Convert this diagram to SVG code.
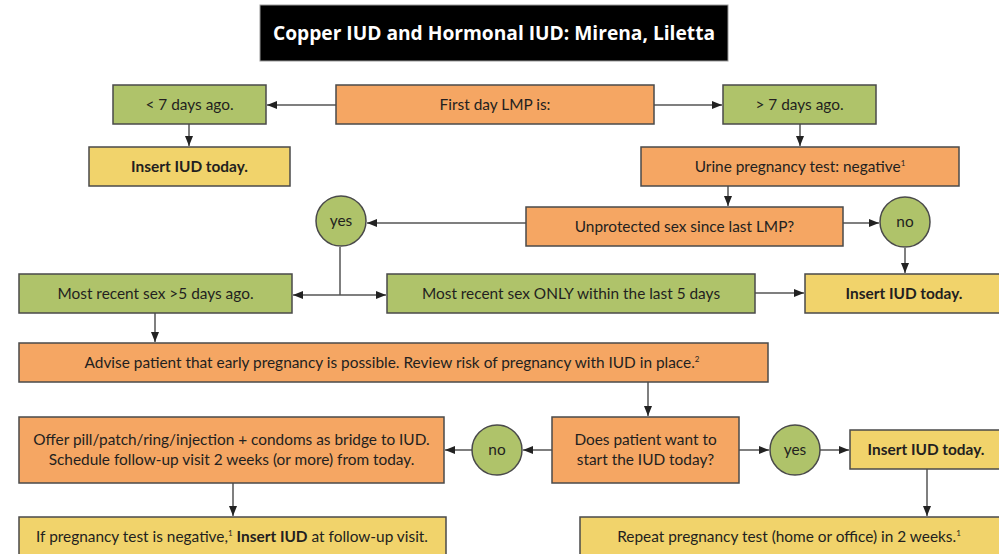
<svg xmlns="http://www.w3.org/2000/svg" width="999" height="554" viewBox="0 0 999 554">
<defs>
<marker id="ah" viewBox="0 0 10 10" refX="10" refY="5" markerWidth="10" markerHeight="10" markerUnits="userSpaceOnUse" orient="auto-start-reverse">
<path d="M0,1 L10,5 L0,9 Z" fill="#222"/>
</marker>
<style>
.o{fill:#F5A663;stroke:#4a4a4a;stroke-width:1.5}
.g{fill:#AFC36A;stroke:#4a4a4a;stroke-width:1.5}
.y{fill:#F1D36B;stroke:#4a4a4a;stroke-width:1.5}
.t{font-family:Lato,"Liberation Sans",sans-serif;font-size:15.4px;fill:#231f20;text-anchor:middle}
.b{font-weight:bold}
.sup{font-size:8px}
.c line,.c polyline{stroke:#555;stroke-width:1.5;fill:none}
</style>
</defs>
<rect width="999" height="554" fill="#fff"/>
<g id="title">
<rect x="260" y="5" width="468" height="56" fill="#000" stroke="#999" stroke-width="1"/>
<text x="494" y="40" font-family="'Open Sans','DejaVu Sans',sans-serif" font-weight="bold" font-size="19.2" fill="#fff" text-anchor="middle">Copper IUD and Hormonal IUD: Mirena, Liletta</text>
</g>
<g class="c">
<line x1="336" y1="105" x2="267" y2="105" marker-end="url(#ah)"/>
<line x1="654" y1="105" x2="722" y2="105" marker-end="url(#ah)"/>
<line x1="189" y1="124" x2="189" y2="146" marker-end="url(#ah)"/>
<line x1="800" y1="124" x2="800" y2="146" marker-end="url(#ah)"/>
<line x1="728" y1="186" x2="728" y2="206" marker-end="url(#ah)"/>
<line x1="526" y1="223" x2="367" y2="223" marker-end="url(#ah)"/>
<line x1="843" y1="223" x2="879" y2="223" marker-end="url(#ah)"/>
<line x1="905" y1="248" x2="905" y2="273" marker-end="url(#ah)"/>
<line x1="340" y1="247" x2="340" y2="295"/>
<line x1="340" y1="295" x2="293" y2="295" marker-end="url(#ah)"/>
<line x1="340" y1="295" x2="386" y2="295" marker-end="url(#ah)"/>
<line x1="755" y1="293" x2="804" y2="293" marker-end="url(#ah)"/>
<line x1="155" y1="313" x2="155" y2="342" marker-end="url(#ah)"/>
<line x1="648" y1="382" x2="648" y2="416" marker-end="url(#ah)"/>
<line x1="552" y1="450" x2="523" y2="450" marker-end="url(#ah)"/>
<line x1="472" y1="450" x2="445" y2="450" marker-end="url(#ah)"/>
<line x1="739" y1="450" x2="769" y2="450" marker-end="url(#ah)"/>
<line x1="820" y1="450" x2="849" y2="450" marker-end="url(#ah)"/>
<line x1="233" y1="483" x2="233" y2="516" marker-end="url(#ah)"/>
<line x1="927" y1="469" x2="927" y2="516" marker-end="url(#ah)"/>
</g>
<g id="lt7"><rect class="g" x="113" y="85" width="153" height="39"/><text class="t" x="189.5" y="110">&lt; 7 days ago.</text></g>
<g id="insert1"><rect class="y" x="89" y="147" width="201" height="39"/><text class="t b" x="189.5" y="172">Insert IUD today.</text></g>
<g id="lmp"><rect class="o" x="336" y="85" width="318" height="39"/><text class="t" x="495" y="110">First day LMP is:</text></g>
<g id="gt7"><rect class="g" x="723" y="85" width="153" height="39"/><text class="t" x="799.5" y="110">&gt; 7 days ago.</text></g>
<g id="urine"><rect class="o" x="641" y="147" width="318" height="39"/><text class="t" x="800" y="172">Urine pregnancy test: negative<tspan class="sup" dy="-6">1</tspan></text></g>
<g id="unprot"><rect class="o" x="526" y="207" width="317" height="39"/><text class="t" x="684.5" y="232">Unprotected sex since last LMP?</text></g>
<g id="no1"><circle class="g" cx="905" cy="222" r="25"/><text class="t" x="905" y="227">no</text></g>
<g id="yes1"><circle class="g" cx="341" cy="221" r="25"/><text class="t" x="341" y="226">yes</text></g>
<g id="gt5"><rect class="g" x="19" y="274" width="273" height="39"/><text class="t" x="155.5" y="299">Most recent sex &gt;5 days ago.</text></g>
<g id="only5"><rect class="g" x="387" y="274" width="368" height="39"/><text class="t" x="571" y="299">Most recent sex ONLY within the last 5 days</text></g>
<g id="insert2"><rect class="y" x="805" y="274" width="200" height="39"/><text class="t b" x="904" y="299">Insert IUD today.</text></g>
<g id="advise"><rect class="o" x="19" y="343" width="749" height="39"/><text class="t" x="392" y="368">Advise patient that early pregnancy is possible. Review risk of pregnancy with IUD in place.<tspan class="sup" dy="-6">2</tspan></text></g>
<g id="want"><rect class="o" x="552" y="417" width="187" height="66"/><text class="t" x="645.5" y="445">Does patient want to</text><text class="t" x="645.5" y="465">start the IUD today?</text></g>
<g id="no2"><circle class="g" cx="497" cy="450" r="25"/><text class="t" x="497" y="455">no</text></g>
<g id="yes2"><circle class="g" cx="795" cy="450" r="25"/><text class="t" x="795" y="455">yes</text></g>
<g id="offer"><rect class="o" x="19" y="417" width="425" height="66"/><text class="t" x="231.5" y="445">Offer pill/patch/ring/injection + condoms as bridge to IUD.</text><text class="t" x="231.5" y="465">Schedule follow-up visit 2 weeks (or more) from today.</text></g>
<g id="insert3"><rect class="y" x="850" y="430" width="155" height="39"/><text class="t b" x="926" y="455">Insert IUD today.</text></g>
<g id="followup"><rect class="y" x="19" y="517" width="427" height="45"/><text class="t" x="232" y="542">If pregnancy test is negative,<tspan class="sup" dy="-6">1</tspan><tspan dy="6"> </tspan><tspan class="b">Insert IUD</tspan> at follow-up visit.</text></g>
<g id="repeat"><rect class="y" x="580" y="517" width="425" height="45"/><text class="t" x="789" y="542">Repeat pregnancy test (home or office) in 2 weeks.<tspan class="sup" dy="-6">1</tspan></text></g>
</svg>
